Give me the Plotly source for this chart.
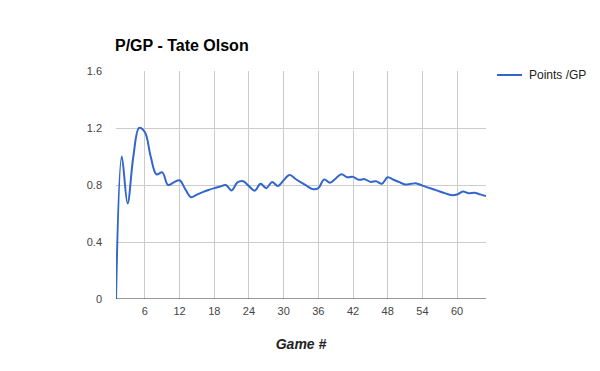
import plotly.graph_objects as go

games = list(range(1, 66))
points_per_gp = [
    0.0, 1.0, 0.67, 1.0, 1.2, 1.17, 1.0, 0.875, 0.889, 0.8,
    0.818, 0.833, 0.769, 0.714, 0.733, 0.75, 0.765, 0.778, 0.789, 0.8,
    0.762, 0.818, 0.826, 0.792, 0.76, 0.808, 0.778, 0.821, 0.793, 0.833,
    0.871, 0.844, 0.818, 0.794, 0.771, 0.778, 0.838, 0.816, 0.846, 0.875,
    0.854, 0.857, 0.837, 0.841, 0.822, 0.826, 0.809, 0.854, 0.837, 0.82,
    0.804, 0.808, 0.811, 0.796, 0.782, 0.768, 0.754, 0.741, 0.729, 0.733,
    0.754, 0.742, 0.746, 0.734, 0.723,
]
series_name = "Points /GP"
x_ticks = [6, 12, 18, 24, 30, 36, 42, 48, 54, 60]
y_ticks = [0, 0.4, 0.8, 1.2, 1.6]
y_tick_text = ["0", "0.4", "0.8", "1.2", "1.6"]

FONT = "Liberation Sans, Arial, sans-serif"
LINE_COLOR = "#3366cc"
W, H = 600, 371
ML, MR, MT, MB = 116, 114, 71, 72
PW, PH = W - ML - MR, H - MT - MB

def px_x(px):
    return (px - ML) / PW

def px_y(py):
    return (H - MB - py) / PH

fig = go.Figure()
fig.add_trace(go.Scatter(
    x=games, y=points_per_gp, mode="lines", name=series_name,
    line=dict(color=LINE_COLOR, width=2, shape="spline", smoothing=1.0),
))

fig.update_layout(
    width=W, height=H,
    margin=dict(l=ML, r=MR, t=MT, b=MB, autoexpand=False),
    paper_bgcolor="white", plot_bgcolor="white",
    font=dict(family=FONT, size=11, color="#444"),
    showlegend=False,
    title=dict(text="<b>P/GP - Tate Olson</b>", x=115/W, xref="container", xanchor="left",
               y=1-45/H, yref="container", yanchor="middle",
               font=dict(family=FONT, size=16, color="#000")),
    xaxis=dict(range=[1, 65], tickvals=x_ticks, showgrid=True, gridcolor="#cccccc", gridwidth=1,
               zeroline=False, showline=False, ticks="", tickfont=dict(size=11, color="#444"),
               ticklabelstandoff=4, automargin=False,
               title=dict(text="<b><i>Game #</i></b>", font=dict(family=FONT, size=14, color="#222"), standoff=23)),
    yaxis=dict(range=[0, 1.6], tickvals=y_ticks, ticktext=y_tick_text, showgrid=True, gridcolor="#cccccc",
               zeroline=False, showline=False, ticks="", tickfont=dict(size=11, color="#444"),
               ticklabelstandoff=13, automargin=False),
)
# baseline at y=0
fig.add_shape(type="line", xref="paper", yref="y", x0=0, x1=1, y0=0, y1=0,
              line=dict(color="#333333", width=1))
# legend (drawn manually so it does not shrink the plot area)
fig.add_shape(type="line", xref="paper", yref="paper",
              x0=px_x(497), x1=px_x(522), y0=px_y(75), y1=px_y(75),
              line=dict(color=LINE_COLOR, width=2))
fig.add_annotation(text=series_name, xref="paper", yref="paper", x=px_x(527), y=px_y(75),
                   xanchor="left", yanchor="middle", showarrow=False,
                   font=dict(family=FONT, size=12, color="#222"))

fig.write_html("out.html", config={"displayModeBar": False},
               post_script="document.body.style.margin='0';")
